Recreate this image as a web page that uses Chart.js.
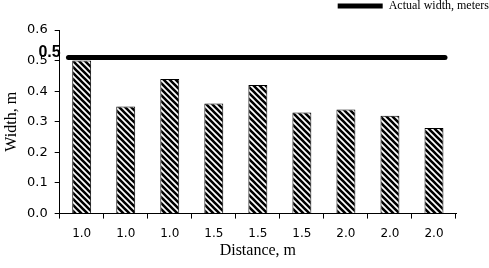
<!DOCTYPE html>
<html>
<head>
<meta charset="utf-8">
<script src="https://cdn.jsdelivr.net/npm/chart.js@4/dist/chart.umd.min.js"></script>
<style>
	html, body { margin: 0; padding: 0; background: #fff; }
	#wrap { width: 489px; height: 268px; position: relative; }
</style>
</head>
<body>
<div id="wrap"><canvas id="chart"></canvas></div>
<script>
// chart data
const distances = ['1.0', '1.0', '1.0', '1.5', '1.5', '1.5', '2.0', '2.0', '2.0'];
const measuredWidths = [0.50, 0.35, 0.44, 0.36, 0.42, 0.33, 0.34, 0.32, 0.28];
const actualWidth = 0.51;
const actualLabel = 'Actual width, meters';
const yTicks = [0, 0.1, 0.2, 0.3, 0.4, 0.5, 0.6];

// diagonal hatch fill for the bars
let makeHatch = () => {
	let c = document.createElement('canvas');
	c.width = 6;
	c.height = 6;
	let g = c.getContext('2d');
	g.fillStyle = '#fff';
	g.fillRect(0, 0, 6, 6);
	g.strokeStyle = '#000';
	g.lineWidth = 2.6;
	g.beginPath();
	for (let k = -6; k <= 12; k += 6) {
		g.moveTo(k - 3, -3);
		g.lineTo(k + 9, 9);
	}
	g.stroke();
	return g.createPattern(c, 'repeat');
};

// bold value label at the left end of the reference line
let lineLabel = {
	id: 'lineLabel',
	afterDatasetsDraw (chart) {
		let { ctx, scales } = chart;
		let y = scales.y.getPixelForValue(actualWidth);
		ctx.save();
		ctx.font = 'bold 16px "Liberation Sans"';
		ctx.fillStyle = '#000';
		ctx.textAlign = 'right';
		ctx.textBaseline = 'alphabetic';
		ctx.fillText(actualWidth.toFixed(1), scales.x.left + 1, y - 1);
		ctx.restore();
	},
};

new Chart(document.getElementById('chart'), {
	type: 'bar',
	data: {
		labels: distances,
		datasets: [
			{
				type: 'line',
				label: actualLabel,
				data: [{ x: 0.2, y: actualWidth }, { x: 8.75, y: actualWidth }],
				xAxisID: 'x2',
				borderColor: '#000',
				backgroundColor: '#000',
				borderWidth: 5,
				pointRadius: 0,
				borderCapStyle: 'round',
				order: 0,
			},
			{
				label: 'Width',
				data: measuredWidths,
				backgroundColor: makeHatch(),
				borderColor: '#000',
				borderWidth: 1,
				grouped: false,
				barPercentage: 0.43,
				categoryPercentage: 1,
				order: 1,
			},
		],
	},
	options: {
		responsive: true,
		maintainAspectRatio: false,
		animation: false,
		layout: { padding: { left: 4, right: 0, top: 0, bottom: 9 } },
		plugins: {
			legend: {
				position: 'top',
				align: 'end',
				labels: {
					filter: (item) => item.text === actualLabel,
					usePointStyle: true,
					pointStyle: 'line',
					pointStyleWidth: 45,
					boxHeight: 5,
					color: '#000',
					font: { family: '"Liberation Serif"', size: 12 },
					padding: 0,
				},
			},
			tooltip: { enabled: false },
		},
		scales: {
			x: {
				offset: true,
				grid: { display: true, drawOnChartArea: false, offset: true, color: '#000', tickLength: 5, tickWidth: 1 },
				border: { color: '#000', width: 1 },
				ticks: { color: '#000', font: { family: '"DejaVu Sans"', size: 12 }, padding: 8, maxRotation: 0 },
				title: { display: true, text: 'Distance, m', color: '#000', font: { family: '"Liberation Serif"', size: 16, lineHeight: 1 }, padding: { top: -6, bottom: 0 } },
			},
			// hidden top axis: carries the reference line, reserves room under the legend
			x2: {
				type: 'linear',
				position: 'top',
				offset: false,
				min: 0,
				max: 9,
				grid: { display: false },
				border: { display: false },
				ticks: { display: false },
				afterFit: (axis) => { axis.height = 8; },
			},
			y: {
				min: 0,
				max: 0.6,
				afterBuildTicks: (axis) => { axis.ticks = yTicks.map(v => ({ value: v })); },
				grid: { display: true, drawOnChartArea: false, color: '#000', tickLength: 5 },
				border: { color: '#000', width: 1 },
				ticks: { color: '#000', font: { family: '"DejaVu Sans"', size: 13 }, padding: 7, callback: v => v.toFixed(1) },
				title: { display: true, text: 'Width, m', color: '#000', font: { family: '"Liberation Serif"', size: 16, lineHeight: 1 }, padding: { top: 0, bottom: 0 } },
			},
			// hidden right axis: keeps the plot clear of the right edge
			yR: {
				position: 'right',
				grid: { display: false },
				border: { display: false },
				ticks: { display: false },
				afterFit: (axis) => { axis.width = 33; },
			},
		},
	},
	plugins: [lineLabel],
});
</script>
</body>
</html>
